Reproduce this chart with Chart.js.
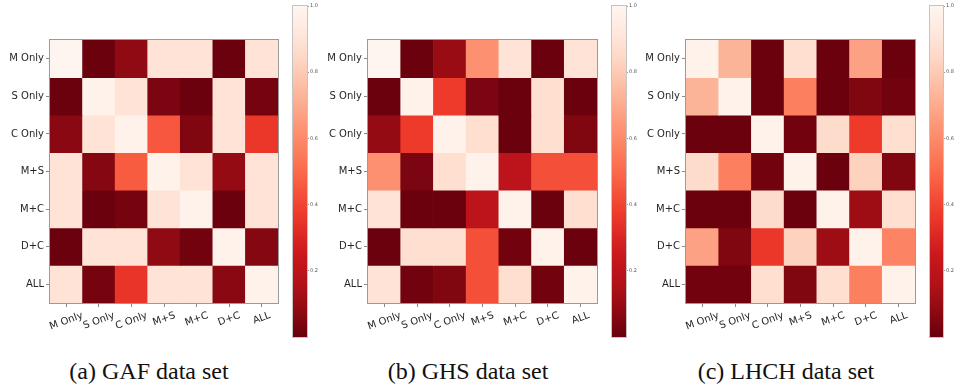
<!DOCTYPE html>
<html>
<head>
<meta charset="utf-8">
<script src="https://cdn.jsdelivr.net/npm/chart.js@4.4.1/dist/chart.umd.min.js"></script>
<style>
  body { margin: 0; background: #fff; width: 956px; height: 386px; position: relative; overflow: hidden; }
  canvas { position: absolute; top: 0; }
  .caption { position: absolute; top: 359px; width: 300px; text-align: center;
             font-family: "Liberation Serif", "DejaVu Serif", serif; font-size: 24px; line-height: 24px; color: #111; }
</style>
</head>
<body>
<script>
// categories on both axes
const categories = ['M Only', 'S Only', 'C Only', 'M+S', 'M+C', 'D+C', 'ALL'];

// similarity values, one row per category (row = y label, column = x label)
const gafValues = [
  [1.00, 0.01, 0.08, 0.89, 0.89, 0.01, 0.89],
  [0.01, 0.98, 0.89, 0.04, 0.01, 0.89, 0.03],
  [0.07, 0.89, 0.98, 0.45, 0.05, 0.89, 0.36],
  [0.89, 0.06, 0.46, 0.98, 0.89, 0.09, 0.89],
  [0.89, 0.01, 0.03, 0.89, 0.98, 0.01, 0.89],
  [0.01, 0.89, 0.89, 0.08, 0.02, 0.98, 0.06],
  [0.89, 0.03, 0.35, 0.89, 0.89, 0.07, 0.98]
];
const ghsValues = [
  [1.00, 0.01, 0.10, 0.62, 0.89, 0.01, 0.89],
  [0.01, 0.98, 0.37, 0.04, 0.01, 0.87, 0.01],
  [0.09, 0.37, 0.98, 0.87, 0.01, 0.87, 0.05],
  [0.62, 0.04, 0.87, 0.98, 0.20, 0.43, 0.43],
  [0.89, 0.01, 0.01, 0.20, 0.98, 0.01, 0.87],
  [0.01, 0.87, 0.87, 0.43, 0.02, 0.98, 0.01],
  [0.89, 0.02, 0.05, 0.43, 0.87, 0.02, 0.98]
];
const lhchValues = [
  [0.98, 0.73, 0.01, 0.87, 0.01, 0.67, 0.01],
  [0.73, 0.98, 0.01, 0.57, 0.01, 0.05, 0.02],
  [0.01, 0.01, 0.98, 0.02, 0.86, 0.37, 0.87],
  [0.86, 0.57, 0.02, 0.98, 0.01, 0.83, 0.05],
  [0.01, 0.01, 0.86, 0.01, 0.98, 0.11, 0.87],
  [0.67, 0.05, 0.36, 0.83, 0.11, 0.98, 0.58],
  [0.02, 0.02, 0.87, 0.05, 0.87, 0.57, 0.98]
];
const captions = ['(a) GAF data set', '(b) GHS data set', '(c) LHCH data set'];
const colorbarTicks = [0.2, 0.4, 0.6, 0.8, 1.0];

// matplotlib "Reds" stops, used reversed (0 -> dark, 1 -> white)
const redsStops = [
  [255, 245, 240], [254, 224, 210], [252, 187, 161], [252, 146, 114], [251, 106, 74],
  [239, 59, 44], [203, 24, 29], [165, 15, 21], [103, 0, 13]
];
function redsR(v) {
  const t = (1 - Math.max(0, Math.min(1, v))) * (redsStops.length - 1);
  const i = Math.min(Math.floor(t), redsStops.length - 2);
  const f = t - i;
  const a = redsStops[i], b = redsStops[i + 1];
  const c = a.map((x, k) => Math.round(x + (b[k] - x) * f));
  return `rgb(${c[0]},${c[1]},${c[2]})`;
}

const tickFont = { family: 'DejaVu Sans', size: 10 };

// outline around the plot area, like the matplotlib axes frame
const framePlugin = {
  id: 'frame',
  afterDatasetsDraw(chart, args, opts) {
    const { ctx, chartArea: a } = chart;
    ctx.save();
    ctx.strokeStyle = opts.color || '#999';
    ctx.lineWidth = 1;
    ctx.strokeRect(Math.round(a.left) - 0.5, Math.round(a.top) - 0.5,
      Math.round(a.right - a.left) + 1, Math.round(a.bottom - a.top) + 1);
    ctx.restore();
  }
};

// x tick labels rotated 20deg and centred under their tick (matplotlib style)
const xLabelPlugin = {
  id: 'xlabels',
  afterDraw(chart) {
    const { ctx } = chart;
    const xs = chart.scales.x;
    const rot = 20 * Math.PI / 180;
    const y0 = chart.chartArea.bottom + 7;
    ctx.save();
    ctx.font = `${tickFont.size}px ${tickFont.family}`;
    ctx.fillStyle = '#262626';
    ctx.textAlign = 'center';
    ctx.textBaseline = 'middle';
    chart.data.labels.forEach((lab, i) => {
      const w = ctx.measureText(lab).width;
      const h = tickFont.size * 1.1;
      const bh = w * Math.sin(rot) + h * Math.cos(rot);
      ctx.save();
      ctx.translate(xs.getPixelForTick(i), y0 + bh / 2);
      ctx.rotate(-rot);
      ctx.fillText(lab, 0, 0);
      ctx.restore();
    });
    ctx.restore();
  }
};

function addCanvas(left, width, height) {
  const c = document.createElement('canvas');
  c.width = width; c.height = height;
  c.style.left = left + 'px';
  c.style.width = width + 'px'; c.style.height = height + 'px';
  document.body.appendChild(c);
  return c.getContext('2d');
}

function heatmap(values, areaLeft, areaRight) {
  const canvasLeft = areaLeft - 50, W = areaRight - canvasLeft + 12, H = 345;
  const ctx = addCanvas(canvasLeft, W, H);
  const datasets = values.map((row, r) => ({
    data: categories.map(() => [r, r + 1]),
    backgroundColor: row.map(redsR),
    borderWidth: 0,
    borderSkipped: false,
    grouped: false,
    barPercentage: 1,
    categoryPercentage: 1
  }));
  new Chart(ctx, {
    type: 'bar',
    data: { labels: categories, datasets },
    options: {
      responsive: false,
      animation: false,
      layout: { padding: { top: 40, right: W - (areaRight - canvasLeft), left: 0, bottom: 0 } },
      plugins: { legend: { display: false }, tooltip: { enabled: false }, frame: { color: '#9a9a9a' } },
      scales: {
        x: {
          type: 'category',
          offset: true,
          grid: { offset: false, drawOnChartArea: false, tickLength: 4, color: '#8a8a8a' },
          border: { display: false },
          ticks: { display: false },
          afterFit(s) { s.height = H - 303; }
        },
        y: {
          type: 'linear',
          reverse: true,
          min: 0,
          max: 7,
          afterBuildTicks(s) { s.ticks = categories.map((_, i) => ({ value: i + 0.5 })); },
          grid: { drawOnChartArea: false, tickLength: 4, color: '#8a8a8a' },
          border: { display: false },
          ticks: { font: tickFont, color: '#262626', padding: 2, callback: (v, i) => categories[i] },
          afterFit(s) { s.width = 50; }
        }
      }
    },
    plugins: [framePlugin, xLabelPlugin]
  });
}

function colorbar(barLeft, barRight) {
  const canvasLeft = barLeft - 8, W = 45, H = 345;
  const ctx = addCanvas(canvasLeft, W, H);
  new Chart(ctx, {
    type: 'bar',
    data: {
      labels: ['scale'],
      datasets: [{
        data: [[0, 1]],
        borderWidth: 0,
        borderSkipped: false,
        barPercentage: 1,
        categoryPercentage: 1,
        backgroundColor(c) {
          const area = c.chart.chartArea;
          if (!area) return '#fff';
          const g = c.chart.ctx.createLinearGradient(0, area.bottom, 0, area.top);
          for (let k = 0; k <= 20; k++) g.addColorStop(k / 20, redsR(k / 20));
          return g;
        }
      }]
    },
    options: {
      responsive: false,
      animation: false,
      layout: { padding: { top: 6, bottom: H - 337, left: 8, right: 0 } },
      plugins: { legend: { display: false }, tooltip: { enabled: false }, frame: { color: '#c4c4c4' } },
      scales: {
        x: { display: false },
        y: {
          position: 'right',
          min: 0,
          max: 1,
          afterBuildTicks(s) { s.ticks = colorbarTicks.map(v => ({ value: v })); },
          grid: { drawOnChartArea: false, tickLength: 2, color: '#999' },
          border: { display: false },
          ticks: { font: { family: 'DejaVu Sans', size: 5 }, color: '#555', padding: 1,
                   callback: v => v.toFixed(1) },
          afterFit(s) { s.width = W - 8 - (barRight - barLeft); }
        }
      }
    },
    plugins: [framePlugin]
  });
}

heatmap(gafValues, 50, 278);
colorbar(293, 307);
heatmap(ghsValues, 368, 597);
colorbar(612, 626);
heatmap(lhchValues, 686, 915);
colorbar(930, 943);

[149, 468, 786].forEach((cx, i) => {
  const d = document.createElement('div');
  d.className = 'caption';
  d.style.left = (cx - 150) + 'px';
  d.textContent = captions[i];
  document.body.appendChild(d);
});
</script>
</body>
</html>
